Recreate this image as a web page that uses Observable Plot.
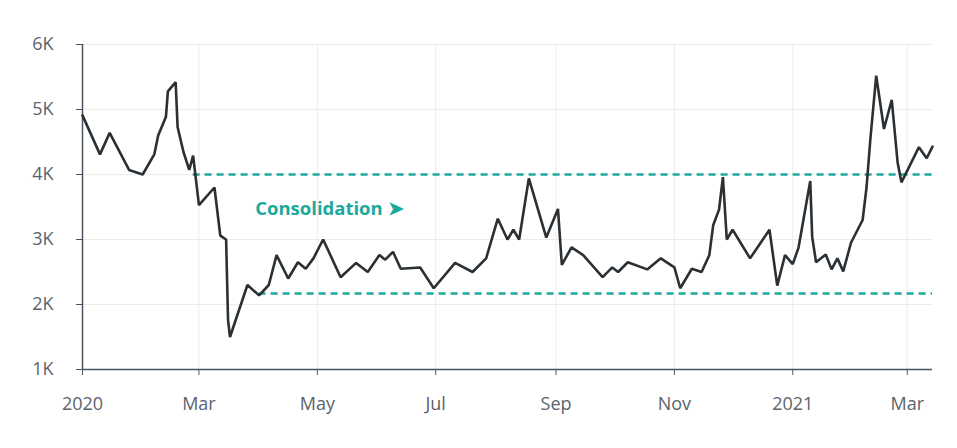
<!DOCTYPE html>
<html>
<head>
<meta charset="utf-8">
<script src="https://cdn.jsdelivr.net/npm/d3@7"></script>
<script src="https://cdn.jsdelivr.net/npm/@observablehq/plot@0.6"></script>
<style>
  html, body { margin: 0; padding: 0; background: #fff; }
  #chart svg { display: block; }
</style>
</head>
<body>
<div id="chart"></div>
<script>
const dates = [
  "2020-01-01","2020-01-10","2020-01-15","2020-01-25","2020-02-01","2020-02-07","2020-02-09","2020-02-13",
  "2020-02-14","2020-02-18","2020-02-19","2020-02-22","2020-02-25","2020-02-27","2020-03-01","2020-03-09",
  "2020-03-12","2020-03-15","2020-03-16","2020-03-17","2020-03-26","2020-04-01","2020-04-06","2020-04-10",
  "2020-04-16","2020-04-21","2020-04-25","2020-04-29","2020-05-04","2020-05-13","2020-05-21","2020-05-27",
  "2020-06-02","2020-06-05","2020-06-09","2020-06-13","2020-06-23","2020-06-30","2020-07-11","2020-07-20",
  "2020-07-27","2020-08-02","2020-08-07","2020-08-10","2020-08-13","2020-08-18","2020-08-27","2020-09-02",
  "2020-09-04","2020-09-09","2020-09-15","2020-09-25","2020-09-30","2020-10-03","2020-10-08","2020-10-18",
  "2020-10-25","2020-11-01","2020-11-04","2020-11-10","2020-11-15","2020-11-19","2020-11-21","2020-11-24",
  "2020-11-26","2020-11-28","2020-12-01","2020-12-10","2020-12-20","2020-12-24","2020-12-28","2021-01-01",
  "2021-01-04","2021-01-10","2021-01-11","2021-01-13","2021-01-18","2021-01-21","2021-01-24","2021-01-27",
  "2021-01-31","2021-02-06","2021-02-08","2021-02-10","2021-02-13","2021-02-17","2021-02-21","2021-02-24",
  "2021-02-26","2021-03-07","2021-03-11","2021-03-14"
];
const values = [
  4910,4310,4640,4070,4000,4310,4600,4890,
  5280,5420,4730,4350,4070,4290,3530,3800,
  3060,3000,1760,1500,2300,2140,2300,2760,
  2400,2650,2550,2710,3000,2420,2640,2500,
  2760,2690,2810,2550,2570,2250,2640,2500,
  2710,3320,3000,3150,3000,3940,3030,3470,
  2610,2880,2760,2420,2570,2500,2650,2540,
  2710,2570,2250,2550,2500,2760,3220,3460,
  3960,3000,3150,2710,3150,2290,2760,2620,
  2880,3900,3040,2650,2770,2540,2710,2510,
  2950,3300,3800,4550,5520,4700,5150,4190,
  3880,4420,4250,4430
];
const bandValues = [4000, 2170];
const bandStarts = ["2020-02-27", "2020-04-01"];
const labelText = ["Consolidation ➤"];
const labelDate = ["2020-03-30"];
const labelValue = [3470];
const yTicks = [1000, 2000, 3000, 4000, 5000, 6000];

const parse = d3.utcParse("%Y-%m-%d");
const series = dates.map((d, i) => ({date: parse(d), value: values[i]}));
const xStart = parse("2020-01-01");
const xEnd = parse("2021-03-14");
const bands = bandValues.map((v, i) => ({value: v, start: parse(bandStarts[i])}));
const labels = labelText.map((t, i) => ({text: t, date: parse(labelDate[i]), value: labelValue[i]}));

const monthFmt = d3.utcFormat("%b");
const yearFmt = d3.utcFormat("%Y");
const fmtX = d => d.getUTCMonth() === 0 ? yearFmt(d) : monthFmt(d);
const xTicks = d3.utcMonth.every(2).range(xStart, xEnd);

const teal = "#1aa99c";
const axisColor = "#4a5560";
const textColor = "#5a646d";

const chart = Plot.plot({
  width: 957,
  height: 448,
  marginLeft: 82,
  marginRight: 25,
  marginTop: 44,
  marginBottom: 79,
  style: {fontFamily: "'Open Sans', sans-serif", fontSize: "18px", color: textColor, background: "#fff"},
  x: {type: "utc", domain: [xStart, xEnd], label: null},
  y: {domain: [1000, 6000], label: null},
  marks: [
    Plot.gridX(xTicks, {stroke: "#ececec", strokeOpacity: 1, y1: 1000, y2: 6000}),
    Plot.gridY(yTicks, {stroke: "#ececec", strokeOpacity: 1}),
    Plot.axisX(xTicks, {
      tickFormat: fmtX, tickSize: 6, tickPadding: 22, stroke: axisColor, fill: textColor, fontSize: 18, label: null
    }),
    Plot.axisY(yTicks, {
      tickFormat: d => (d / 1000) + "K", tickSize: 6, tickPadding: 23, stroke: axisColor, fill: textColor, fontSize: 18, label: null
    }),
    Plot.ruleY([1000], {x1: xStart, x2: xEnd, stroke: axisColor, strokeWidth: 1.5}),
    Plot.ruleX([xStart], {y1: 1000, y2: 6000, stroke: axisColor, strokeWidth: 1.5}),
    Plot.ruleY(bands, {y: "value", x1: "start", x2: () => xEnd, stroke: teal, strokeWidth: 2.5, strokeDasharray: "7,5"}),
    Plot.lineY(series, {x: "date", y: "value", stroke: "#2b3034", strokeWidth: 2.6, strokeLinejoin: "miter"}),
    Plot.text(labels, {x: "date", y: "value", text: "text", textAnchor: "start", fill: teal, fontSize: 18.5, fontWeight: "bold"})
  ]
});
document.getElementById("chart").appendChild(chart);
</script>
</body>
</html>
